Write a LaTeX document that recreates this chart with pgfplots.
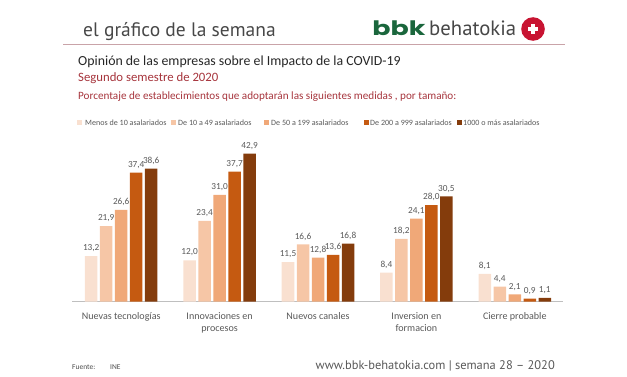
\documentclass[border=0pt]{standalone}
\usepackage{fontspec}
\setmainfont{Carlito}
\newfontfamily\headfont{PT Sans}
\newfontfamily\logofont{Poppins}[BoldFont={Poppins Bold}]
\usepackage{pgfplots}
\pgfplotsset{compat=1.18}
\definecolor{c1}{HTML}{F9E0D0}
\definecolor{c2}{HTML}{F6C6A6}
\definecolor{c3}{HTML}{F0A878}
\definecolor{c4}{HTML}{C55A11}
\definecolor{c5}{HTML}{843C0C}
\definecolor{redt}{HTML}{A6343C}
\definecolor{rule}{HTML}{C9A3A8}
\definecolor{lab}{HTML}{595959}
\definecolor{logog}{HTML}{1A663C}
\definecolor{logor}{HTML}{C81432}
\begin{document}
\begin{tikzpicture}[x=1bp,y=1bp]
\useasboundingbox (0,0) rectangle (627,376);
% header
\node[anchor=base west,inner sep=0,font=\headfont\fontsize{19.6}{20}\selectfont,text=black!72] at (83,376-36) {el gráfico de la semana};
\node[anchor=base west,inner sep=0,font=\logofont\bfseries\fontsize{20}{20}\selectfont,text=logog,xscale=1.35] at (372,376-35) {bbk};
\node[anchor=base west,inner sep=0,font=\headfont\fontsize{20.8}{20}\selectfont,text=black!72] at (429,376-35) {behatokia};
\fill[logor] (533,376-29) circle (11.8);
\fill[white] (528,376-30.7) rectangle (538,376-27.3);
\fill[white] (531.3,376-34) rectangle (534.7,376-24);
\draw[rule,line width=1bp] (63,376-44.5) -- (565,376-44.5);
% titles
\node[anchor=base west,inner sep=0,font=\fontsize{13.9}{14}\selectfont,text=black!85] at (78,376-65) {Opinión de las empresas sobre el Impacto de la COVID-19};
\node[anchor=base west,inner sep=0,font=\fontsize{12.8}{13}\selectfont,text=redt] at (78,376-81) {Segundo semestre de 2020};
\node[anchor=base west,inner sep=0,font=\fontsize{11.2}{12}\selectfont,text=redt] at (78,376-99) {Porcentaje de establecimientos que adoptarán las siguientes medidas , por tamaño:};
% legend
\foreach \sx/\tx/\col/\txt in {77/85/c1/Menos de 10 asalariados,171/178/c2/De 10 a 49 asalariados,264/271/c3/De 50 a 199 asalariados,364/370/c4/De 200 a 999 asalariados,457/463/c5/1000 o más asalariados}{
  \fill[\col] (\sx,376-125) rectangle ++(5,5);
  \node[anchor=base west,inner sep=0,font=\fontsize{8.1}{8}\selectfont,text=lab] at (\tx,376-125.3) {\txt};
}
\begin{axis}[
  at={(72bp,74.3bp)},anchor=south west,
  scale only axis,width=491bp,height=155.25bp,
  xmin=-0.5,xmax=4.49,ymin=0,ymax=45,
  axis x line=bottom,axis y line=none,
  axis line style={draw=black!25,line width=0.6bp,-},
  clip=false,
  ybar=2.5bp,bar width=12.5bp,
  xtick={0,1,2,3,4},
  xticklabels={Nuevas tecnologías,{Innovaciones en\\procesos},Nuevos canales,{Inversion en\\formacion},Cierre probable},
  xtick style={draw=none},
  x tick label style={align=center,font=\fontsize{10.1}{12.6}\selectfont,text=lab,yshift=-3bp},
  nodes near coords={\pgfmathprintnumber[fixed,fixed zerofill,precision=1,use comma,assume math mode=true]{\pgfplotspointmeta}},
  every node near coord/.append style={font=\fontsize{9.3}{9.3}\selectfont,text=lab,inner sep=4bp},
]
\addplot[fill=c1,draw=none] coordinates {(0,13.2)(1,12.0)(2,11.5)(3,8.4)(4,8.1)};
\addplot[fill=c2,draw=none] coordinates {(0,21.9)(1,23.4)(2,16.6)(3,18.2)(4,4.4)};
\addplot[fill=c3,draw=none] coordinates {(0,26.6)(1,31.0)(2,12.8)(3,24.1)(4,2.1)};
\addplot[fill=c4,draw=none] coordinates {(0,37.4)(1,37.7)(2,13.6)(3,28.0)(4,0.9)};
\addplot[fill=c5,draw=none] coordinates {(0,38.6)(1,42.9)(2,16.8)(3,30.5)(4,1.1)};
\end{axis}
% footer
\node[anchor=base west,inner sep=0,font=\fontsize{7.5}{7.5}\selectfont,text=black!70] at (72,376-369) {Fuente:};
\node[anchor=base west,inner sep=0,font=\fontsize{7.5}{7.5}\selectfont,text=black!70] at (110,376-369) {INE};
\node[anchor=base east,inner sep=0,font=\headfont\fontsize{12.5}{12.5}\selectfont,text=black!65] at (555,376-369) {www.bbk-behatokia.com | semana 28 – 2020};
\end{tikzpicture}
\end{document}
